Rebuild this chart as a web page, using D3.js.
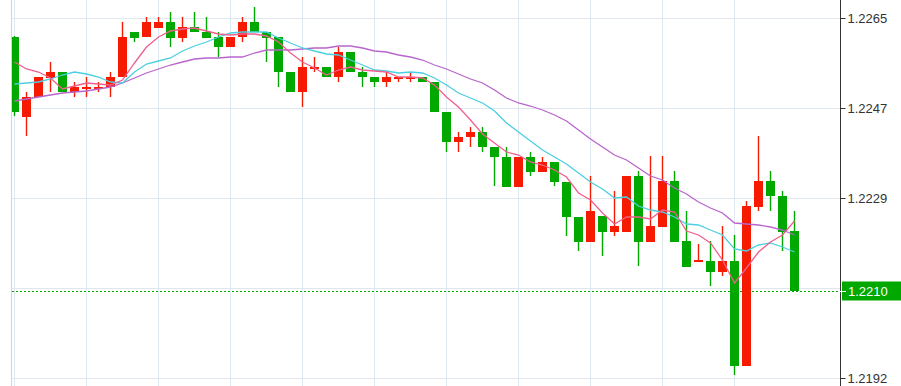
<!DOCTYPE html>
<html lang="en">
<head>
  <meta charset="UTF-8">
  <title>Candlestick chart with d3.js</title>
  <script src="https://d3js.org/d3.v7.min.js"></script>
  <style>
    body { margin: 0; background: #fff; }
    .grid line { stroke: #dfe8f0; stroke-width: 1px; }
    .axis text { font-family: "Liberation Sans", Arial, sans-serif; font-size: 13px; fill: #333; }
    .axis path, .axis line { stroke: #333; }
    .ma { fill: none; stroke-width: 1.3px; }
  </style>
</head>
<body>
  <svg id="chart" width="901" height="386"></svg>

  <script>
    // candles: [open, high, low, close]
    const candles = [
      [1.22612, 1.22614, 1.22454, 1.22462], [1.22452, 1.22502, 1.22414, 1.22492],
      [1.22492, 1.22532, 1.22492, 1.22532], [1.22530, 1.22562, 1.22502, 1.22542],
      [1.22542, 1.22542, 1.22502, 1.22502], [1.22502, 1.22522, 1.22492, 1.22512],
      [1.22510, 1.22532, 1.22492, 1.22512], [1.22510, 1.22522, 1.22502, 1.22512],
      [1.22512, 1.22542, 1.22492, 1.22532], [1.22532, 1.22642, 1.22532, 1.22612],
      [1.22622, 1.22622, 1.22602, 1.22610], [1.22612, 1.22652, 1.22612, 1.22642],
      [1.22630, 1.22652, 1.22630, 1.22642], [1.22642, 1.22662, 1.22592, 1.22610],
      [1.22610, 1.22652, 1.22602, 1.22632], [1.22632, 1.22662, 1.22622, 1.22622],
      [1.22622, 1.22652, 1.22610, 1.22610], [1.22612, 1.22622, 1.22572, 1.22592],
      [1.22592, 1.22612, 1.22592, 1.22612], [1.22612, 1.22652, 1.22602, 1.22642],
      [1.22642, 1.22672, 1.22622, 1.22622], [1.22622, 1.22622, 1.22562, 1.22610],
      [1.22612, 1.22612, 1.22512, 1.22542], [1.22542, 1.22542, 1.22502, 1.22502],
      [1.22502, 1.22572, 1.22472, 1.22552], [1.22550, 1.22572, 1.22542, 1.22552],
      [1.22552, 1.22552, 1.22532, 1.22532], [1.22532, 1.22592, 1.22522, 1.22582],
      [1.22582, 1.22582, 1.22542, 1.22542], [1.22542, 1.22552, 1.22512, 1.22532],
      [1.22532, 1.22532, 1.22512, 1.22522], [1.22522, 1.22542, 1.22512, 1.22532],
      [1.22530, 1.22532, 1.22522, 1.22532], [1.22530, 1.22542, 1.22522, 1.22532],
      [1.22532, 1.22532, 1.22522, 1.22522], [1.22522, 1.22522, 1.22462, 1.22462],
      [1.22462, 1.22462, 1.22382, 1.22402], [1.22402, 1.22422, 1.22382, 1.22412],
      [1.22412, 1.22432, 1.22392, 1.22422], [1.22422, 1.22432, 1.22382, 1.22392],
      [1.22392, 1.22392, 1.22314, 1.22372], [1.22372, 1.22392, 1.22312, 1.22312],
      [1.22312, 1.22372, 1.22312, 1.22372], [1.22372, 1.22382, 1.22334, 1.22342],
      [1.22342, 1.22372, 1.22342, 1.22362], [1.22362, 1.22362, 1.22314, 1.22322],
      [1.22322, 1.22322, 1.22214, 1.22252], [1.22252, 1.22252, 1.22184, 1.22202],
      [1.22202, 1.22334, 1.22202, 1.22264], [1.22254, 1.22254, 1.22174, 1.22222],
      [1.22222, 1.22304, 1.22214, 1.22234], [1.22222, 1.22334, 1.22222, 1.22334],
      [1.22334, 1.22344, 1.22154, 1.22202], [1.22202, 1.22374, 1.22202, 1.22234],
      [1.22232, 1.22374, 1.22232, 1.22324], [1.22324, 1.22344, 1.22202, 1.22202],
      [1.22204, 1.22264, 1.22152, 1.22152], [1.22162, 1.22198, 1.22162, 1.22166],
      [1.22164, 1.22204, 1.22114, 1.22142], [1.22142, 1.22234, 1.22134, 1.22164],
      [1.22164, 1.22216, 1.21936, 1.21954], [1.21954, 1.22284, 1.21954, 1.22274],
      [1.22272, 1.22414, 1.22264, 1.22324], [1.22324, 1.22344, 1.22264, 1.22294],
      [1.22294, 1.22304, 1.22184, 1.22222], [1.22224, 1.22264, 1.22104, 1.22104]
    ];

    // moving averages
    const maFast = [
      1.22562, 1.22548, 1.22542, 1.22530, 1.22508, 1.22514, 1.22520, 1.22518, 1.22516, 1.22526,
      1.22560, 1.22592, 1.22612, 1.22624, 1.22628, 1.22630, 1.22624, 1.22618, 1.22616, 1.22618,
      1.22618, 1.22614, 1.22602, 1.22580, 1.22562, 1.22550, 1.22536, 1.22546, 1.22552, 1.22546,
      1.22544, 1.22542, 1.22532, 1.22532, 1.22530, 1.22516, 1.22492, 1.22472, 1.22446, 1.22418,
      1.22400, 1.22382, 1.22376, 1.22362, 1.22356, 1.22346, 1.22332, 1.22300, 1.22286, 1.22260,
      1.22238, 1.22252, 1.22252, 1.22248, 1.22266, 1.22262, 1.22224, 1.22216, 1.22200, 1.22166,
      1.22120, 1.22150, 1.22182, 1.22202, 1.22216, 1.22244
    ];
    const maMid = [
      1.22518, 1.22520, 1.22522, 1.22528, 1.22536, 1.22542, 1.22538, 1.22532, 1.22522, 1.22520,
      1.22542, 1.22558, 1.22564, 1.22570, 1.22584, 1.22594, 1.22602, 1.22612, 1.22620, 1.22622,
      1.22622, 1.22622, 1.22610, 1.22600, 1.22590, 1.22584, 1.22578, 1.22576, 1.22566, 1.22556,
      1.22546, 1.22544, 1.22540, 1.22542, 1.22540, 1.22530, 1.22516, 1.22500, 1.22490, 1.22480,
      1.22464, 1.22440, 1.22422, 1.22404, 1.22386, 1.22372, 1.22358, 1.22340, 1.22322, 1.22308,
      1.22290, 1.22292, 1.22274, 1.22266, 1.22262, 1.22252, 1.22238, 1.22236, 1.22226, 1.22216,
      1.22188, 1.22184, 1.22196, 1.22200, 1.22192, 1.22182
    ];
    const maSlow = [
      1.22484, 1.22488, 1.22492, 1.22496, 1.22500, 1.22502, 1.22504, 1.22508, 1.22512, 1.22520,
      1.22530, 1.22540, 1.22548, 1.22556, 1.22562, 1.22568, 1.22570, 1.22570, 1.22572, 1.22572,
      1.22580, 1.22586, 1.22586, 1.22586, 1.22588, 1.22590, 1.22590, 1.22594, 1.22594, 1.22590,
      1.22584, 1.22582, 1.22576, 1.22572, 1.22566, 1.22556, 1.22548, 1.22538, 1.22528, 1.22520,
      1.22506, 1.22490, 1.22480, 1.22474, 1.22466, 1.22456, 1.22444, 1.22426, 1.22408, 1.22392,
      1.22376, 1.22366, 1.22350, 1.22334, 1.22326, 1.22310, 1.22298, 1.22282, 1.22270, 1.22260,
      1.22240, 1.22238, 1.22236, 1.22232, 1.22226, 1.22216
    ];

    const gridPrices = [1.2265, 1.2247, 1.2229, 1.2211, 1.2193];
    // the 1.2211 label sits under the last-price tag, so only these are shown
    const priceTicks = [1.2265, 1.2247, 1.2229, 1.2193];
    const priceTickLabels = ["1.2265", "1.2247", "1.2229", "1.2192"];
    const timeGridIndex = [0, 6, 12, 18, 24, 30, 36, 42, 48, 54, 60];
    const lastPrice = 1.22104;

    const upColor = "#f51a00", downColor = "#00a800";
    const plotLeft = 12, plotRight = 840, plotTop = 0, plotBottom = 386;

    const svg = d3.select("#chart");

    const x = d3.scaleLinear().domain([0, 65]).range([14.5, 794.5]);
    const y = d3.scaleLinear().domain([1.2193, 1.2265]).range([378, 18]);

    svg.append("clipPath").attr("id", "plot")
      .append("rect").attr("x", plotLeft).attr("y", plotTop)
      .attr("width", plotRight - plotLeft).attr("height", plotBottom - plotTop);

    // grid
    const grid = svg.append("g").attr("class", "grid");
    grid.selectAll(".h").data(gridPrices).enter().append("line")
      .attr("x1", plotLeft).attr("x2", plotRight)
      .attr("y1", d => Math.round(y(d)) + 0.5).attr("y2", d => Math.round(y(d)) + 0.5);
    grid.selectAll(".v").data(timeGridIndex).enter().append("line")
      .attr("x1", d => Math.floor(x(d)) + 0.5).attr("x2", d => Math.floor(x(d)) + 0.5)
      .attr("y1", plotTop).attr("y2", plotBottom);
    svg.append("line").attr("x1", plotLeft - 0.5).attr("x2", plotLeft - 0.5)
      .attr("y1", plotTop).attr("y2", plotBottom).attr("stroke", "#d4d4d4");

    const plot = svg.append("g").attr("clip-path", "url(#plot)");

    // last price dotted line
    plot.append("line")
      .attr("x1", plotLeft).attr("x2", plotRight)
      .attr("y1", Math.round(y(lastPrice)) + 0.5).attr("y2", Math.round(y(lastPrice)) + 0.5)
      .attr("stroke", downColor).attr("stroke-dasharray", "2,2");

    // candles
    const c = plot.selectAll(".candle").data(candles).enter().append("g");
    c.append("line")
      .attr("x1", (d, i) => x(i)).attr("x2", (d, i) => x(i))
      .attr("y1", d => y(d[1])).attr("y2", d => y(d[2]))
      .attr("stroke", d => d[3] >= d[0] ? upColor : downColor)
      .attr("stroke-width", 1.4);
    c.append("rect")
      .attr("x", (d, i) => x(i) - 4.5)
      .attr("width", 9)
      .attr("y", d => y(Math.max(d[0], d[3])))
      .attr("height", d => Math.max(2, Math.abs(y(d[0]) - y(d[3]))))
      .attr("fill", d => d[3] >= d[0] ? upColor : downColor);

    // moving averages
    const line = d3.line().x((d, i) => x(i)).y(d => y(d));
    [[maSlow, "#b865cc"], [maMid, "#4ccfe0"], [maFast, "#f0608f"]].forEach(([s, col]) => {
      plot.append("path").datum(s).attr("class", "ma").attr("stroke", col).attr("d", line);
    });

    // right axis
    const axis = d3.axisRight(y).tickValues(priceTicks).tickSize(5).tickPadding(2)
      .tickFormat((d, i) => priceTickLabels[i]);
    const ax = svg.append("g").attr("class", "axis")
      .attr("transform", `translate(${plotRight + 0.5},0)`).call(axis);
    ax.select(".domain").attr("d", `M0,${plotTop}V${plotBottom}`);

    // current price label
    const ly = y(lastPrice);
    svg.append("rect").attr("x", plotRight + 2).attr("y", ly - 9.5)
      .attr("width", 901 - plotRight - 2).attr("height", 19).attr("fill", downColor);
    svg.append("line").attr("x1", plotRight).attr("x2", plotRight + 6)
      .attr("y1", Math.round(ly) + 0.5).attr("y2", Math.round(ly) + 0.5).attr("stroke", "#fff");
    svg.append("text").attr("x", plotRight + 8).attr("y", ly).attr("dy", "0.35em")
      .attr("font-family", "Liberation Sans, Arial, sans-serif").attr("font-size", 13)
      .attr("fill", "#fff").text(d3.format(".4f")(lastPrice));
  </script>
</body>
</html>
